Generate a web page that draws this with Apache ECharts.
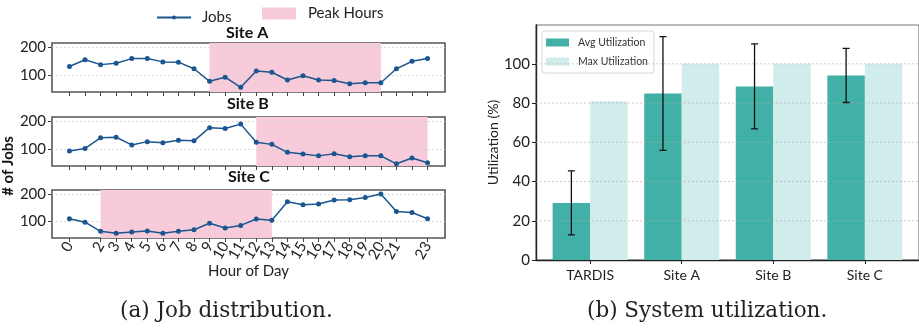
<!DOCTYPE html>
<html>
<head>
<meta charset="utf-8">
<script src="https://cdn.jsdelivr.net/npm/echarts@6/dist/echarts.min.js"></script>
<style>
html,body{margin:0;padding:0;background:#fff;}
#chart{width:919px;height:329px;}
</style>
</head>
<body>
<div id="chart"></div>
<script>
// ---------------- data ----------------
const hours = [0,1,2,3,4,5,6,7,8,9,10,11,12,13,14,15,16,17,18,19,20,21,22,23];
const siteAJobs = [130,155,137,142,159,159,147,146,122,76,91,54,114,109,81,96,81,79,67,71,71,122,149,159];
const siteBJobs = [92,101,140,142,114,126,122,131,129,177,174,190,124,116,87,81,74,82,71,74,74,45,66,49];
const siteCJobs = [109,96,62,55,59,63,55,62,68,92,74,84,108,103,172,161,164,179,180,188,201,136,132,109];
const peakA = [9, 20];
const peakB = [12, 23];
const peakC = [2, 13];
const siteTitles = ['Site A', 'Site B', 'Site C'];
const jobTicks = [100, 200];

const systems = ['TARDIS', 'Site A', 'Site B', 'Site C'];
const avgUtil = [29.1, 84.9, 88.5, 94.1];
const stdUtil = [16.3, 29.0, 21.7, 13.8];
const maxUtil = [80.9, 100, 100, 100];
const utilTicks = [0, 20, 40, 60, 80, 100];

// ---------------- styles ----------------
const FONT = 'Lato';
const LINE_COLOR = '#1b5690';
const PINK = '#f7cbd9';
const AVG_COLOR = '#41b0a6';
const MAX_COLOR = '#d0edeb';
const BAR_W = 37.5;
const X_RANGE_B = [-0.591, 3.591];

const grids = [
  {left: 52, top: 43, width: 393, height: 49},
  {left: 52, top: 117, width: 393, height: 49},
  {left: 52, top: 190, width: 393, height: 48}
].map(g => Object.assign(g, {show: true, borderColor: '#555', borderWidth: 1.6, backgroundColor: 'transparent'}));
grids.push({left: 536, top: 25, right: -6, bottom: 69, show: true, borderColor: '#777', borderWidth: 1.2});

const xAxes = [0,1,2].map(i => ({
  type: 'value', gridIndex: i, min: -1.12, max: 24.12,
  axisLine: {show: false, onZero: false},
  axisTick: {show: true, customValues: hours, length: 4, lineStyle: {color: '#444', width: 1}},
  axisLabel: {show: i === 2, customValues: hours, rotate: 60, fontFamily: FONT, fontSize: 15, color: '#222', margin: 5,
    showMinLabel: true, showMaxLabel: true, hideOverlap: false},
  splitLine: {show: false}
}));
xAxes.push({
  type: 'value', gridIndex: 3, min: X_RANGE_B[0], max: X_RANGE_B[1],
  axisLine: {show: true, onZero: false, lineStyle: {color: '#222', width: 1.4}},
  axisTick: {show: true, customValues: [0,1,2,3], length: 4, lineStyle: {color: '#222'}},
  axisLabel: {customValues: [0,1,2,3], formatter: v => systems[Math.round(v)], fontFamily: FONT, fontSize: 14, color: '#222', margin: 8},
  splitLine: {show: false}
});

const yAxes = [0,1,2].map(i => ({
  type: 'value', gridIndex: i, min: 37, max: 216,
  axisLine: {show: false, onZero: false},
  axisTick: {show: true, customValues: jobTicks, length: 4, lineStyle: {color: '#444'}},
  axisLabel: {customValues: jobTicks, fontFamily: FONT, fontSize: 15, color: '#222', margin: 6},
  splitLine: {show: false}
}));
yAxes[1].name = '# of Jobs';
yAxes[1].nameLocation = 'middle';
yAxes[1].nameGap = 27;
yAxes[1].nameTextStyle = {fontFamily: FONT, fontSize: 15, fontWeight: 'bold', color: '#111', padding: [0, 49, 0, 0]};
yAxes.push({
  type: 'value', gridIndex: 3, min: 0, max: 119.8,
  name: 'Utilization (%)', nameLocation: 'middle', nameGap: 31,
  nameTextStyle: {fontFamily: FONT, fontSize: 14, color: '#222'},
  axisLine: {show: true, onZero: false, lineStyle: {color: '#222', width: 1.4}},
  axisTick: {show: true, customValues: utilTicks, length: 4, lineStyle: {color: '#222'}},
  axisLabel: {customValues: utilTicks, fontFamily: FONT, fontSize: 15, color: '#222', margin: 6},
  splitLine: {show: false}
});

const jobSets = [siteAJobs, siteBJobs, siteCJobs];
const peaks = [peakA, peakB, peakC];
const series = [];
jobSets.forEach((vals, i) => {
  series.push({
    name: 'Jobs', type: 'line', xAxisIndex: i, yAxisIndex: i,
    data: hours.map((h, k) => [h, vals[k]]),
    symbol: 'circle', symbolSize: 5, showSymbol: true,
    lineStyle: {color: LINE_COLOR, width: 1.5},
    itemStyle: {color: LINE_COLOR},
    z: 5, silent: true, animation: false,
    markArea: {silent: true, itemStyle: {color: PINK, opacity: 1},
      data: [[{xAxis: peaks[i][0]}, {xAxis: peaks[i][1]}]]},
    markLine: {silent: true, symbol: 'none', label: {show: false},
      lineStyle: {color: '#d4d4d4', type: [2, 2], width: 0.8},
      data: jobTicks.map(t => ({yAxis: t}))}
  });
});
series.push({name: 'Peak Hours', type: 'bar', xAxisIndex: 0, yAxisIndex: 0, data: [], itemStyle: {color: PINK}});

series.push({
  name: 'Avg Utilization', type: 'bar', xAxisIndex: 3, yAxisIndex: 3,
  data: systems.map((s, k) => [k, avgUtil[k]]),
  barWidth: BAR_W, barGap: '0%', itemStyle: {color: AVG_COLOR}, animation: false
});
series.push({
  name: 'Max Utilization', type: 'bar', xAxisIndex: 3, yAxisIndex: 3,
  data: systems.map((s, k) => [k, maxUtil[k]]),
  barWidth: BAR_W, barGap: '0%', itemStyle: {color: MAX_COLOR}, animation: false
});
series.push({
  name: 'grid', type: 'custom', xAxisIndex: 3, yAxisIndex: 3, z: 8, animation: false, silent: true,
  data: utilTicks.slice(1).map(t => [0, t]),
  renderItem: (params, api) => {
    const t = api.value(1);
    const a = api.coord([X_RANGE_B[0], t]);
    const b = api.coord([X_RANGE_B[1], t]);
    return {type: 'line', shape: {x1: a[0], y1: a[1], x2: b[0], y2: b[1]},
      style: {stroke: 'rgba(175,175,175,0.6)', lineWidth: 1, lineDash: [2, 2]}};
  }
});
series.push({
  name: 'err', type: 'custom', xAxisIndex: 3, yAxisIndex: 3, z: 10, animation: false, silent: true,
  clip: true,
  data: systems.map((s, k) => [k, avgUtil[k], stdUtil[k]]),
  renderItem: (params, api) => {
    const x = api.value(0), m = api.value(1), s = api.value(2);
    const hi = api.coord([x, m + s]);
    const lo = api.coord([x, m - s]);
    const cx = hi[0] - BAR_W / 2;
    const d = `M${cx},${hi[1]}L${cx},${lo[1]}` +
              `M${cx - 3.5},${hi[1]}L${cx + 3.5},${hi[1]}` +
              `M${cx - 3.5},${lo[1]}L${cx + 3.5},${lo[1]}`;
    return {type: 'path', shape: {pathData: d},
      style: {stroke: '#111', fill: null, lineWidth: 1.3}};
  }
});

const titleStyle = {fontFamily: FONT, fontSize: 16, fontWeight: 'bold', color: '#111', lineHeight: 16};
const capStyle = {fontFamily: '"DejaVu Serif"', fontSize: 21.5, fontWeight: 'normal', color: '#222', lineHeight: 24};
const titles = [
  {text: siteTitles[0], left: 226, top: 25, padding: 0, textStyle: titleStyle},
  {text: siteTitles[1], left: 227, top: 96, padding: 0, textStyle: titleStyle},
  {text: siteTitles[2], left: 228, top: 169, padding: 0, textStyle: titleStyle},
  {text: 'Hour of Day', left: 208, top: 263, padding: 0,
   textStyle: {fontFamily: FONT, fontSize: 15, fontWeight: 'normal', color: '#222', lineHeight: 16}},
  {text: '(a) Job distribution.', left: 120, top: 299, padding: 0, textStyle: capStyle},
  {text: '(b) System utilization.', left: 587, top: 299, padding: 0, textStyle: capStyle}
];

const option = {
  animation: false,
  title: titles,
  grid: grids,
  xAxis: xAxes,
  yAxis: yAxes,
  series: series,
  legend: [
    {data: [{name: 'Jobs'}],
     left: 156, top: 10, padding: 0, itemWidth: 34, itemHeight: 5,
     textStyle: {fontFamily: FONT, fontSize: 15, color: '#222', padding: [0, 0, 0, 6]},
     selectedMode: false},
    {data: [{name: 'Peak Hours', icon: 'rect'}],
     left: 262, top: 6, padding: 0, itemWidth: 34, itemHeight: 12,
     textStyle: {fontFamily: FONT, fontSize: 15, color: '#222', padding: [0, 0, 0, 7]},
     selectedMode: false},
    {data: [{name: 'Avg Utilization', icon: 'rect'}, {name: 'Max Utilization', icon: 'rect'}],
     left: 542, top: 31, orient: 'vertical', itemWidth: 23, itemHeight: 8, itemGap: 8,
     backgroundColor: '#fff', borderColor: '#d8d8d8', borderWidth: 1, borderRadius: 3,
     padding: [6, 6, 6, 4],
     textStyle: {fontFamily: FONT, fontSize: 10.5, color: '#333', padding: [0, 0, 0, 4]},
     selectedMode: false}
  ]
};
const chart = echarts.init(document.getElementById('chart'), null, {renderer: 'canvas'});
chart.setOption(option);
</script>
</body>
</html>
